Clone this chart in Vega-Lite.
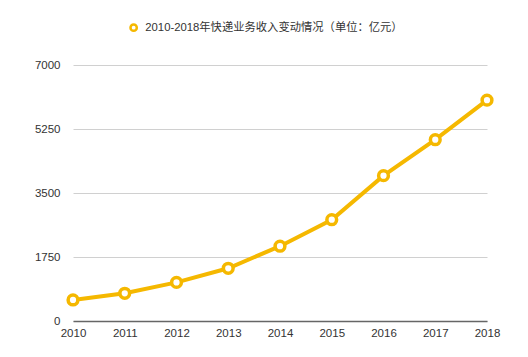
{
  "$schema": "https://vega.github.io/schema/vega-lite/v6.json",
  "autosize": {"type": "none"},
  "width": 414,
  "height": 256,
  "padding": {"left": 73, "top": 65, "right": 41, "bottom": 36},
  "background": "white",
  "config": {
    "view": {"stroke": null},
    "font": "Helvetica, Arial, 'Noto Sans CJK SC'"
  },
  "data": {
    "values": [
      {"year": "2010", "revenue": 574.6, "series": "2010-2018年快递业务收入变动情况（单位：亿元）"},
      {"year": "2011", "revenue": 758.0, "series": "2010-2018年快递业务收入变动情况（单位：亿元）"},
      {"year": "2012", "revenue": 1055.3, "series": "2010-2018年快递业务收入变动情况（单位：亿元）"},
      {"year": "2013", "revenue": 1441.7, "series": "2010-2018年快递业务收入变动情况（单位：亿元）"},
      {"year": "2014", "revenue": 2045.4, "series": "2010-2018年快递业务收入变动情况（单位：亿元）"},
      {"year": "2015", "revenue": 2769.6, "series": "2010-2018年快递业务收入变动情况（单位：亿元）"},
      {"year": "2016", "revenue": 3974.4, "series": "2010-2018年快递业务收入变动情况（单位：亿元）"},
      {"year": "2017", "revenue": 4957.1, "series": "2010-2018年快递业务收入变动情况（单位：亿元）"},
      {"year": "2018", "revenue": 6038.4, "series": "2010-2018年快递业务收入变动情况（单位：亿元）"}
    ]
  },
  "encoding": {
    "x": {
      "field": "year",
      "type": "ordinal",
      "scale": {"type": "point", "padding": 0},
      "axis": {
        "title": null,
        "labelAngle": 0,
        "ticks": false,
        "domainColor": "#666666",
        "domainWidth": 1.5,
        "labelPadding": 6,
        "labelFontSize": 11.5,
        "labelColor": "#333333",
        "grid": false
      }
    },
    "y": {
      "field": "revenue",
      "type": "quantitative",
      "scale": {"domain": [0, 7000], "nice": false},
      "axis": {
        "title": null,
        "values": [0, 1750, 3500, 5250, 7000],
        "format": "d",
        "domain": false,
        "ticks": false,
        "labelPadding": 13,
        "labelFontSize": 11.5,
        "labelColor": "#333333",
        "gridColor": "#d0d0d0",
        "gridWidth": 1
      }
    },
    "color": {
      "field": "series",
      "type": "nominal",
      "scale": {"range": ["#F5B800"]},
      "legend": {
        "title": null,
        "orient": "none",
        "legendX": 55,
        "legendY": -43,
        "symbolType": "circle",
        "symbolFillColor": "white",
        "symbolStrokeWidth": 2.5,
        "symbolSize": 40,
        "labelFontSize": 11.3,
        "labelLimit": 400,
        "labelColor": "#333333",
        "labelOffset": 6,
        "padding": 0
      }
    }
  },
  "layer": [
    {"mark": {"type": "line", "strokeWidth": 4}},
    {"mark": {"type": "point", "filled": false, "fill": "white", "fillOpacity": 1, "strokeWidth": 3.5, "size": 95, "opacity": 1}}
  ]
}
